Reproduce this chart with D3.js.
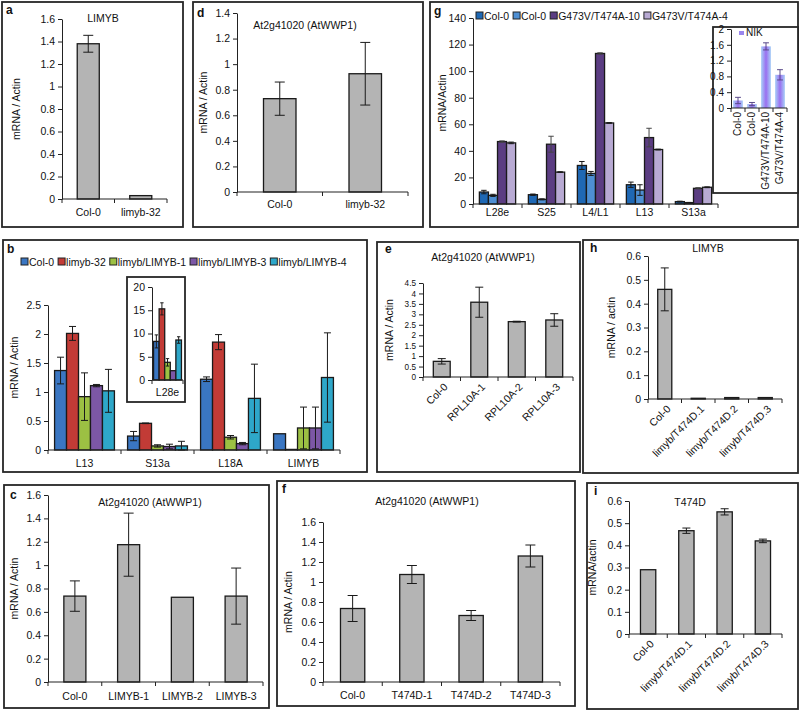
<!DOCTYPE html>
<html><head><meta charset="utf-8">
<script src="https://cdn.jsdelivr.net/npm/d3@7"></script>
<style>
body{margin:0;background:#fff;}
svg text{font-family:"Liberation Sans",Arial,sans-serif;fill:#111;}
</style></head><body>
<svg id="fig" width="800" height="712"></svg>
<script>
// ---------- DATA ----------
// Panel a
const aCategories = ["Col-0", "limyb-32"];
const aValues = [1.38, 0.03];
const aErrors = [0.075, 0];
const aTicks = [0, 0.2, 0.4, 0.6, 0.8, 1, 1.2, 1.4, 1.6];
// Panel d
const dCategories = ["Col-0", "limyb-32"];
const dValues = [0.73, 0.925];
const dErrors = [0.13, 0.245];
const dTicks = [0, 0.2, 0.4, 0.6, 0.8, 1, 1.2, 1.4];
// Panel g
const gCategories = ["L28e", "S25", "L4/L1", "L13", "S13a"];
const gSeriesNames = ["Col-0", "Col-0", "G473V/T474A-10", "G473V/T474A-4"];
const gCol0A = [9, 7, 29, 14.5, 1.8];
const gCol0AErr = [1.3, 0.5, 3, 2, 0.3];
const gCol0B = [6.5, 3.5, 23, 10.5, 1];
const gCol0BErr = [0.8, 0.4, 1.5, 4, 0.2];
const gG10 = [47, 45, 113.3, 50, 11.8];
const gG10Err = [0.5, 6, 0.5, 7, 0.5];
const gG4 = [46, 24, 61, 41, 12.6];
const gG4Err = [0.6, 0.3, 0.3, 0.3, 0.3];
const gTicks = [0, 20, 40, 60, 80, 100, 120, 140];
// Panel g inset (NIK)
const nikCategories = ["Col-0", "Col-0", "G473V/T474A-10", "G473V/T474A-4"];
const nikValues = [0.19, 0.1, 1.56, 0.84];
const nikErrors = [0.08, 0.04, 0.09, 0.13];
const nikTicks = [0, 0.4, 0.8, 1.2, 1.6, 2];
// Panel b
const bCategories = ["L13", "S13a", "L18A", "LIMYB"];
const bSeriesNames = ["Col-0", "limyb-32", "limyb/LIMYB-1", "limyb/LIMYB-3", "limyb/LIMYB-4"];
const bCol0 = [1.37, 0.24, 1.22, 0.28];
const bCol0Err = [0.23, 0.08, 0.04, 0];
const bLimyb32 = [2.01, 0.46, 1.86, 0.01];
const bLimyb32Err = [0.12, 0.005, 0.13, 0];
const bLimyb1 = [0.92, 0.07, 0.22, 0.38];
const bLimyb1Err = [0.41, 0.02, 0.03, 0.36];
const bLimyb3 = [1.11, 0.06, 0.11, 0.38];
const bLimyb3Err = [0.02, 0.04, 0.02, 0.36];
const bLimyb4 = [1.02, 0.07, 0.89, 1.25];
const bLimyb4Err = [0.37, 0.08, 0.59, 0.77];
const bTicks = [0, 0.5, 1, 1.5, 2, 2.5];
// Panel b inset
const bInsetCategories = ["L28e"];
const bInsetValues = [8.3, 15.3, 3.8, 2.0, 8.6];
const bInsetErrors = [1.4, 1.3, 0.8, 0, 0.7];
const bInsetTicks = [0, 5, 10, 15, 20];
// Panel e
const eCategories = ["Col-0", "RPL10A-1", "RPL10A-2", "RPL10A-3"];
const eValues = [0.75, 3.58, 2.65, 2.73];
const eErrors = [0.13, 0.72, 0.02, 0.3];
const eTicks = [0, 0.5, 1, 1.5, 2, 2.5, 3, 3.5, 4, 4.5];
// Panel h
const hCategories = ["Col-0", "limyb/T474D.1", "limyb/T474D.2", "limyb/T474D.3"];
const hValues = [0.46, 0.003, 0.006, 0.006];
const hErrors = [0.09, 0, 0, 0];
const hTicks = [0, 0.1, 0.2, 0.3, 0.4, 0.5, 0.6];
// Panel c
const cCategories = ["Col-0", "LIMYB-1", "LIMYB-2", "LIMYB-3"];
const cValues = [0.735, 1.175, 0.725, 0.735];
const cErrors = [0.13, 0.27, 0, 0.24];
const cTicks = [0, 0.2, 0.4, 0.6, 0.8, 1, 1.2, 1.4, 1.6];
// Panel f
const fCategories = ["Col-0", "T474D-1", "T474D-2", "T474D-3"];
const fValues = [0.735, 1.075, 0.665, 1.26];
const fErrors = [0.13, 0.09, 0.05, 0.11];
const fTicks = [0, 0.2, 0.4, 0.6, 0.8, 1, 1.2, 1.4, 1.6];
// Panel i
const iCategories = ["Col-0", "limyb/T474D.1", "limyb/T474D.2", "limyb/T474D.3"];
const iValues = [0.29, 0.466, 0.551, 0.42];
const iErrors = [0, 0.012, 0.014, 0.008];
const iTicks = [0, 0.1, 0.2, 0.3, 0.4, 0.5, 0.6];

// ---------- DRAWING ----------
const FONT = '"Liberation Sans", Arial, sans-serif';
const GRAY = "#b4b4b4";
const svg = d3.select("#fig");
const defs = svg.append("defs");
const grad = defs.append("linearGradient").attr("id", "nikGrad").attr("x1", "0").attr("x2", "1").attr("y1", "0").attr("y2", "0");
grad.append("stop").attr("offset", "0").attr("stop-color", "#a9d0f7");
grad.append("stop").attr("offset", "0.5").attr("stop-color", "#9a6ff0");
grad.append("stop").attr("offset", "1").attr("stop-color", "#a9d0f7");

function box(b, fill) {
  svg.append("rect").attr("x", b[0]).attr("y", b[1]).attr("width", b[2] - b[0]).attr("height", b[3] - b[1])
    .attr("fill", fill || "none").attr("stroke", "#262626").attr("stroke-width", 1.8);
}
function txt(s, x, y, o) {
  o = o || {};
  const t = svg.append("text").text(s).attr("x", x).attr("y", y)
    .attr("font-size", o.size || 10.5).attr("text-anchor", o.anchor || "middle");
  if (o.bold) t.attr("font-weight", "bold");
  if (o.rotate) t.attr("transform", `rotate(${o.rotate},${x},${y})`);
  return t;
}

function drawPanel(o) {
  const g = svg.append("g");
  const y = d3.scaleLinear().domain([0, o.yMax]).range([o.yb, o.yt]);
  const n = o.labels.length;
  const x = d3.scaleBand().domain(d3.range(n)).range([o.x0, o.x1]);
  const bw = x.bandwidth();
  const groupW = bw * o.groupFrac;
  const m = o.series.length;
  const barW = groupW / m;
  o.series.forEach((s, si) => {
    const rows = s.values.map((v, i) => ({ i, v, e: s.errors[i] }));
    const bx = d => x(d.i) + (bw - groupW) / 2 + si * barW;
    g.append("g").selectAll("rect").data(rows).join("rect")
      .attr("x", bx).attr("y", d => y(d.v)).attr("width", barW)
      .attr("height", d => y(0) - y(d.v))
      .attr("fill", s.color).attr("stroke", "#1a1a1a").attr("stroke-width", o.barStroke || 1.3);
    const eg = g.append("g").attr("stroke", s.errColor || "#1a1a1a").attr("stroke-width", 1).attr("fill", "none");
    rows.filter(d => d.e > 0).forEach(d => {
      const cx = bx(d) + barW / 2;
      const cw = Math.min(o.capMax || 10, barW * 0.6) / 2;
      const y1 = y(d.v + d.e), y2 = y(Math.max(0, d.v - d.e));
      eg.append("line").attr("x1", cx).attr("x2", cx).attr("y1", y1).attr("y2", y2);
      eg.append("line").attr("x1", cx - cw).attr("x2", cx + cw).attr("y1", y1).attr("y2", y1);
      eg.append("line").attr("x1", cx - cw).attr("x2", cx + cw).attr("y1", y2).attr("y2", y2);
    });
  });
  // y axis
  const ya = g.append("g").attr("transform", `translate(${o.x0},0)`)
    .call(d3.axisLeft(y).tickValues(o.yTicks).tickSize(4).tickSizeOuter(0).tickPadding(3).tickFormat(d => String(d)));
  ya.attr("font-family", FONT).attr("font-size", o.tickFont || 10.5);
  ya.selectAll("path,line").attr("stroke", "#222");
  ya.selectAll("text").attr("fill", "#111");
  // x axis
  g.append("line").attr("x1", o.x0).attr("x2", o.x1).attr("y1", o.yb).attr("y2", o.yb).attr("stroke", "#222").attr("stroke-width", 1.2);
  g.append("g").selectAll("line").data(d3.range(n + 1)).join("line")
    .attr("x1", k => o.x0 + k * bw).attr("x2", k => o.x0 + k * bw)
    .attr("y1", o.yb).attr("y2", o.yb + 4).attr("stroke", "#222");
  const lf = o.labelFont || 10.5;
  o.labels.forEach((lab, i) => {
    const cx = x(i) + bw / 2;
    if (o.rotate === -45) {
      const ax = cx + 4, ay = o.yb + 8;
      g.append("text").text(lab).attr("x", ax).attr("y", ay).attr("dy", "0.35em")
        .attr("font-size", lf).attr("text-anchor", "end")
        .attr("transform", `rotate(-45,${ax},${ay})`);
    } else if (o.rotate === -90) {
      const ax = cx + 3, ay = o.yb + 4;
      g.append("text").text(lab).attr("x", ax).attr("y", ay)
        .attr("font-size", lf).attr("text-anchor", "end")
        .attr("transform", `rotate(-90,${ax},${ay})`);
    } else {
      g.append("text").text(lab).attr("x", cx).attr("y", o.labelY)
        .attr("font-size", lf).attr("text-anchor", "middle");
    }
  });
  if (o.yLabel) txt(o.yLabel, o.yLabelX, (o.yt + o.yb) / 2 + (o.yLabelShift || 0), { rotate: -90 });
}

function legend(items, x, y, fs) {
  let cx = x;
  items.forEach(it => {
    svg.append("rect").attr("x", cx).attr("y", y - 4).attr("width", 7).attr("height", 7)
      .attr("fill", it.color).attr("stroke", "#222").attr("stroke-width", 1);
    const t = svg.append("text").text(it.name).attr("x", cx + 8).attr("y", y + 3.5).attr("font-size", fs).attr("text-anchor", "start");
    cx += 8 + t.node().getComputedTextLength() + 4;
  });
}

// ---- a ----
box([2, 2, 183, 227]);
txt("a", 6, 14, { bold: true, size: 12, anchor: "start" });
txt("LIMYB", 103, 22);
drawPanel({ x0: 62, x1: 167, yt: 19, yb: 199, yMax: 1.6, yTicks: aTicks, labels: aCategories, labelY: 216,
  groupFrac: 0.42, series: [{ values: aValues, errors: aErrors, color: GRAY }], yLabel: "mRNA / Actin", yLabelX: 20 });

// ---- d ----
box([193, 2, 423, 227]);
txt("d", 197, 17, { bold: true, size: 12, anchor: "start" });
txt("At2g41020 (AtWWP1)", 305, 29);
drawPanel({ x0: 237, x1: 408, yt: 13, yb: 192, yMax: 1.4, yTicks: dTicks, labels: dCategories, labelY: 208,
  groupFrac: 0.38, series: [{ values: dValues, errors: dErrors, color: GRAY }], yLabel: "mRNA / Actin", yLabelX: 207 });

// ---- g ----
box([430, 2, 798, 227]);
txt("g", 434, 15, { bold: true, size: 12, anchor: "start" });
const gColors = ["#1f68b4", "#4e8fd3", "#5b3d82", "#b8aad3"];
drawPanel({ x0: 473, x1: 718, yt: 18, yb: 204, yMax: 140, yTicks: gTicks, labels: gCategories, labelY: 216,
  groupFrac: 0.74, capMax: 6, series: [
    { values: gCol0A, errors: gCol0AErr, color: gColors[0] },
    { values: gCol0B, errors: gCol0BErr, color: gColors[1] },
    { values: gG10, errors: gG10Err, color: gColors[2], errColor: "#444" },
    { values: gG4, errors: gG4Err, color: gColors[3] }],
  yLabel: "mRNA/Actin", yLabelX: 446, yLabelShift: -8 });
legend(gSeriesNames.map((s, i) => ({ name: s, color: gColors[i] })), 476, 16, 10.5);
// inset NIK
box([713, 27, 798, 193], "#fff");
drawPanel({ x0: 731, x1: 787, yt: 29, yb: 108, yMax: 2, yTicks: nikTicks, labels: nikCategories, rotate: -90,
  groupFrac: 0.7, capMax: 6, barStroke: 0.001, tickFont: 10, labelFont: 10,
  series: [{ values: nikValues, errors: nikErrors, color: "url(#nikGrad)", errColor: "#5a4a8a" }] });
svg.append("rect").attr("x", 739).attr("y", 31).attr("width", 5).attr("height", 4).attr("fill", "#9a86ee");
txt("NIK", 746, 36, { anchor: "start", size: 10 });

// ---- b ----
box([3, 240, 367, 472]);
txt("b", 7, 253, { bold: true, size: 12, anchor: "start" });
const bColors = ["#3a76c2", "#c23b36", "#9cc043", "#7c57a6", "#2ea7c9"];
legend(bSeriesNames.map((s, i) => ({ name: s, color: bColors[i] })), 21, 262, 10.5);
drawPanel({ x0: 48, x1: 340, yt: 305, yb: 450, yMax: 2.5, yTicks: bTicks, labels: bCategories, labelY: 467,
  groupFrac: 0.82, capMax: 7, series: [
    { values: bCol0, errors: bCol0Err, color: bColors[0] },
    { values: bLimyb32, errors: bLimyb32Err, color: bColors[1] },
    { values: bLimyb1, errors: bLimyb1Err, color: bColors[2] },
    { values: bLimyb3, errors: bLimyb3Err, color: bColors[3] },
    { values: bLimyb4, errors: bLimyb4Err, color: bColors[4] }],
  yLabel: "mRNA / Actin", yLabelX: 18, yLabelShift: -10 });
// inset L28e
box([127, 277, 185, 402], "#fff");
drawPanel({ x0: 152, x1: 183, yt: 287, yb: 380, yMax: 20, yTicks: bInsetTicks, labels: bInsetCategories, labelY: 396,
  groupFrac: 0.9, capMax: 6, tickFont: 10.5,
  series: bInsetValues.map((v, i) => ({ values: [v], errors: [bInsetErrors[i]], color: bColors[i] })) });

// ---- e ----
box([377, 242, 580, 472]);
txt("e", 385, 253, { bold: true, size: 12, anchor: "start" });
txt("At2g41020 (AtWWP1)", 483, 261);
drawPanel({ x0: 423, x1: 573, yt: 283, yb: 377, yMax: 4.5, yTicks: eTicks, labels: eCategories, rotate: -45,
  groupFrac: 0.45, capMax: 8, tickFont: 8.2, series: [{ values: eValues, errors: eErrors, color: GRAY }],
  yLabel: "mRNA / Actin", yLabelX: 393 });

// ---- h ----
box([583, 240, 798, 473]);
txt("h", 590, 252, { bold: true, size: 12, anchor: "start" });
txt("LIMYB", 708, 252);
drawPanel({ x0: 648, x1: 782, yt: 256, yb: 399, yMax: 0.6, yTicks: hTicks, labels: hCategories, rotate: -45,
  groupFrac: 0.42, capMax: 8, series: [{ values: hValues, errors: hErrors, color: GRAY }],
  yLabel: "mRNA / actin", yLabelX: 615 });

// ---- c ----
box([4, 485, 269, 708]);
txt("c", 10, 499, { bold: true, size: 12, anchor: "start" });
txt("At2g41020 (AtWWP1)", 150, 506);
drawPanel({ x0: 48, x1: 263, yt: 495, yb: 682, yMax: 1.6, yTicks: cTicks, labels: cCategories, labelY: 700,
  groupFrac: 0.41, series: [{ values: cValues, errors: cErrors, color: GRAY }],
  yLabel: "mRNA / Actin", yLabelX: 18 });

// ---- f ----
box([277, 481, 575, 706]);
txt("f", 282, 493, { bold: true, size: 12, anchor: "start" });
txt("At2g41020 (AtWWP1)", 427, 505);
drawPanel({ x0: 323, x1: 560, yt: 522, yb: 682, yMax: 1.6, yTicks: fTicks, labels: fCategories, labelY: 699,
  groupFrac: 0.41, series: [{ values: fValues, errors: fErrors, color: GRAY }],
  yLabel: "mRNA / Actin", yLabelX: 292 });

// ---- i ----
box([587, 483, 798, 709]);
txt("i", 594, 495, { bold: true, size: 12, anchor: "start" });
txt("T474D", 690, 506);
drawPanel({ x0: 629, x1: 782, yt: 501, yb: 634, yMax: 0.6, yTicks: iTicks, labels: iCategories, rotate: -45,
  groupFrac: 0.4, capMax: 8, series: [{ values: iValues, errors: iErrors, color: GRAY }],
  yLabel: "mRNA/actin", yLabelX: 596 });
</script>
</body></html>
